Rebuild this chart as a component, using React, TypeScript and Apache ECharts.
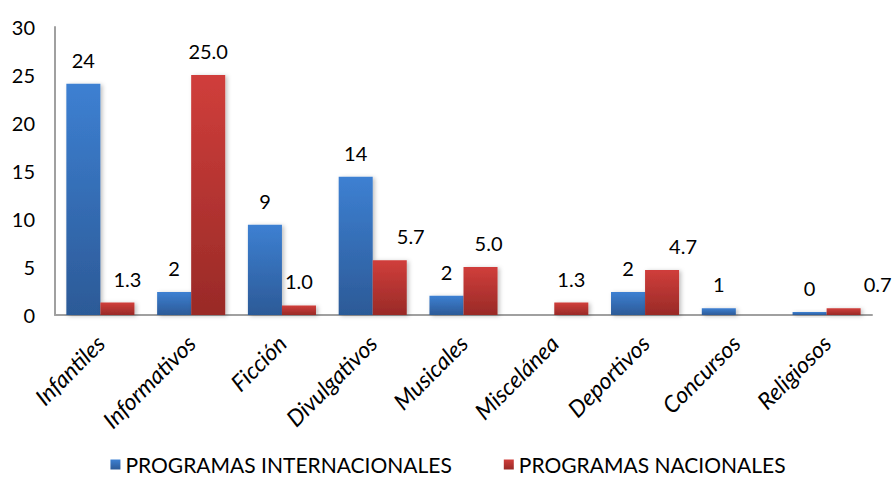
import React, { useEffect, useRef } from "react";
import * as echarts from "echarts";

const categories = [
  "Infantiles",
  "Informativos",
  "Ficción",
  "Divulgativos",
  "Musicales",
  "Miscelánea",
  "Deportivos",
  "Concursos",
  "Religiosos",
];
const internacionales: (number | null)[] = [24.1, 2.4, 9.4, 14.4, 2.0, null, 2.4, 0.7, 0.3];
const nacionales: (number | null)[] = [1.3, 25.0, 1.0, 5.7, 5.0, 1.3, 4.7, null, 0.7];
const seriesNames = ["PROGRAMAS INTERNACIONALES", "PROGRAMAS NACIONALES"];
const yTicks = { min: 0, max: 30, interval: 5 };

// label horizontal nudges (layout only)
const nacionalLabelDx = [10, 0, 0, 21, 8, 0, 21, 0, 34];

const FONT = "Lato";

export default function App() {
  const ref = useRef<HTMLDivElement>(null);
  useEffect(() => {
    document.body.style.margin = "0";
    if (!ref.current) return;
    const chart = echarts.init(ref.current, undefined, { renderer: "svg" });
    const blue = new echarts.graphic.LinearGradient(0, 0, 0, 1, [
      { offset: 0, color: "#3d80d2" },
      { offset: 1, color: "#2c5a97" },
    ]);
    const red = new echarts.graphic.LinearGradient(0, 0, 0, 1, [
      { offset: 0, color: "#d03e3b" },
      { offset: 1, color: "#992a27" },
    ]);
    const labelBase = {
      show: true,
      position: "top" as const,
      distance: 14,
      fontSize: 20,
      fontFamily: FONT,
      color: "#000",
    };
    chart.setOption({
      animation: false,
      textStyle: { fontFamily: FONT },
      grid: { left: 55, right: 24, top: 27, bottom: 162 },
      legend: {
        top: 454,
        left: "center",
        padding: 0,
        itemWidth: 10,
        itemHeight: 10,
        itemGap: 52,
        itemTextGap: 6,
        icon: "rect",
        textStyle: { fontSize: 21, lineHeight: 21, color: "#000", fontFamily: FONT },
        data: seriesNames,
      },
      xAxis: {
        type: "category",
        data: categories,
        axisLine: { show: true, lineStyle: { color: "#a0a0a0", width: 2 } },
        axisTick: { show: false },
        axisLabel: {
          rotate: 45,
          interval: 0,
          margin: 24,
          fontSize: 23,
          fontStyle: "italic",
          color: "#000",
          fontFamily: FONT,
        },
      },
      yAxis: {
        type: "value",
        min: yTicks.min,
        max: yTicks.max,
        interval: yTicks.interval,
        splitLine: { show: false },
        axisLine: { show: true, lineStyle: { color: "#a0a0a0", width: 2 } },
        axisTick: { show: false },
        axisLabel: { fontSize: 20, color: "#000", margin: 20, fontFamily: FONT },
      },
      series: [
        {
          name: seriesNames[0],
          type: "bar",
          barGap: "0%",
          barCategoryGap: "25%",
          data: internacionales,
          itemStyle: {
            color: blue,
            shadowBlur: 4,
            shadowColor: "rgba(0,0,0,0.25)",
            shadowOffsetX: 2,
            shadowOffsetY: 1,
          },
          label: {
            ...labelBase,
            formatter: (p: any) => String(Math.round(p.value)),
          },
        },
        {
          name: seriesNames[1],
          type: "bar",
          barGap: "0%",
          barCategoryGap: "25%",
          data: nacionales.map((v, i) => ({
            value: v,
            label: { offset: [nacionalLabelDx[i], 0] },
          })),
          itemStyle: {
            color: red,
            shadowBlur: 4,
            shadowColor: "rgba(0,0,0,0.25)",
            shadowOffsetX: 2,
            shadowOffsetY: 1,
          },
          label: {
            ...labelBase,
            formatter: (p: any) => Number(p.value).toFixed(1),
          },
        },
      ],
    });
    return () => chart.dispose();
  }, []);
  return <div ref={ref} style={{ width: 896, height: 477 }} />;
}
